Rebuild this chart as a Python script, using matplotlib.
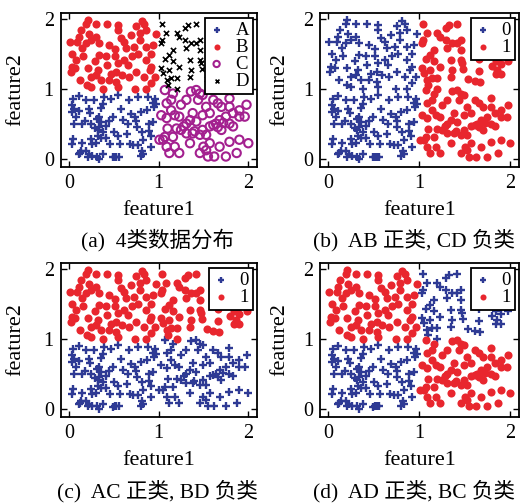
import numpy as np
import matplotlib
matplotlib.use("Agg")
import matplotlib.pyplot as plt

plt.rcParams['font.family'] = ['Liberation Serif', 'Noto Sans CJK SC']
plt.rcParams['mathtext.fontset'] = 'stix'

# class A: x in 0-1, y in 0-1
A_x = [0.05, 0.11, 0.19, 0.28, 0.39, 0.47, 0.55, 0.67, 0.77, 0.88, 0.96,
       0.04, 0.06, 0.04, 0.11, 0.22, 0.24, 0.36, 0.38, 0.58, 0.69, 0.74, 0.80, 0.87, 0.97,
       0.06, 0.15, 0.18, 0.25, 0.31, 0.34, 0.36, 0.34, 0.41, 0.45, 0.49, 0.60, 0.66, 0.75, 0.76, 0.89, 0.94,
       0.32, 0.38, 0.33, 0.41, 0.50, 0.55, 0.65, 0.81, 0.89,
       0.05, 0.04, 0.15, 0.25, 0.26, 0.30, 0.36, 0.46, 0.57, 0.68, 0.72, 0.77, 0.83, 0.82, 0.91,
       0.14, 0.11, 0.19, 0.23, 0.26, 0.31, 0.38, 0.49, 0.56, 0.80, 0.83,
       0.12, 0.21, 0.34, 0.51, 0.53, 0.94, 0.95, 0.92, 0.08, 0.29]
A_y = [0.86, 0.91, 0.85, 0.85, 0.89, 0.86, 0.92, 0.85, 0.89, 0.89, 0.86,
       0.78, 0.72, 0.67, 0.69, 0.72, 0.66, 0.74, 0.79, 0.72, 0.65, 0.60, 0.67, 0.70, 0.79,
       0.50, 0.50, 0.55, 0.50, 0.58, 0.60, 0.53, 0.46, 0.48, 0.55, 0.61, 0.56, 0.51, 0.55, 0.46, 0.51, 0.54,
       0.42, 0.39, 0.34, 0.31, 0.39, 0.34, 0.36, 0.39, 0.41,
       0.29, 0.22, 0.23, 0.29, 0.22, 0.24, 0.31, 0.22, 0.22, 0.22, 0.20, 0.21, 0.27, 0.12, 0.34,
       0.12, 0.08, 0.12, 0.08, 0.05, 0.04, 0.08, 0.03, 0.04, 0.05, 0.07,
       0.09, 0.04, 0.01, 0.04, 0.04, 0.80, 0.75, 0.17, 0.60, 0.45]

# class B: x in 0-1, y in 1-2
B_x = [0.21, 0.30, 0.42, 0.55, 0.55, 0.13, 0.11, 0.09, 0.01, 0.22, 0.25, 0.19, 0.15, 0.04,
       0.03, 0.07, 0.21, 0.12, 0.20, 0.25, 0.30, 0.33, 0.34, 0.45, 0.34, 0.41, 0.51, 0.51,
       0.55, 0.53, 0.62, 0.69, 0.75, 0.84, 0.86, 0.79, 0.73, 0.77, 0.79, 0.97, 0.94, 0.92,
       0.86, 0.92, 0.84, 0.75, 0.67, 0.59, 0.53, 0.45, 0.62, 0.66, 0.42, 0.38, 0.55, 0.74,
       0.86, 0.92, 0.96, 0.30, 0.16, 0.08, 0.29, 0.25, 0.36, 0.64, 0.86, 0.90,
       0.19, 0.47, 0.70, 0.02, 0.58, 0.81]
B_y = [1.99, 1.94, 1.93, 1.92, 1.85, 1.85, 1.75, 1.68, 1.68, 1.79, 1.71, 1.66, 1.59, 1.51,
       1.32, 1.30, 1.30, 1.13, 1.06, 1.03, 1.20, 1.28, 1.66, 1.63, 1.49, 1.47, 1.57, 1.47,
       1.37, 1.25, 1.68, 1.78, 1.90, 1.94, 1.85, 1.71, 1.61, 1.51, 1.80, 1.79, 1.63, 1.51,
       1.42, 1.32, 1.18, 1.25, 1.18, 1.20, 1.11, 1.13, 1.42, 1.35, 1.35, 1.01, 1.03, 1.00,
       1.01, 1.09, 1.18, 1.75, 1.47, 1.42, 1.40, 1.18, 1.13, 1.59, 1.61, 1.28,
       1.94, 1.22, 1.48, 1.25, 1.73, 1.97]

# class C: x in 1-2, y in 0-1
C_x = [1.07, 1.16, 1.14, 1.09, 1.03, 1.09, 1.14, 1.18, 1.25, 1.36, 1.42, 1.46, 1.44, 1.49,
       1.61, 1.66, 1.70, 1.79, 1.79, 1.83, 1.90, 1.98, 1.96, 1.90, 1.75, 1.68, 1.64, 1.57,
       1.49, 1.46, 1.53, 1.35, 1.31, 1.42, 1.25, 1.31, 1.20, 1.10, 1.07, 1.05, 1.16, 1.09,
       1.12, 1.23, 1.18, 1.35, 1.38, 1.57, 1.46, 1.53, 1.62, 1.68, 1.75, 1.79, 1.87, 1.90,
       2.00, 1.83, 1.70, 1.61, 1.79, 1.57, 1.49, 1.38, 1.23, 1.53, 1.31, 1.55, 1.50, 1.01,
       1.66, 1.72, 1.40, 1.28]
C_y = [0.99, 0.94, 0.85, 0.80, 0.63, 0.59, 0.70, 0.63, 0.78, 0.97, 0.99, 0.94, 0.85, 0.92,
       0.85, 0.80, 0.75, 0.87, 0.75, 0.66, 0.70, 0.78, 0.61, 0.61, 0.61, 0.56, 0.51, 0.47,
       0.42, 0.35, 0.35, 0.56, 0.51, 0.54, 0.42, 0.37, 0.44, 0.44, 0.32, 0.28, 0.32, 0.18,
       0.09, 0.09, 0.18, 0.23, 0.37, 0.23, 0.09, 0.13, 0.04, 0.18, 0.04, 0.25, 0.09, 0.28,
       0.23, 0.47, 0.42, 0.49, 0.51, 0.66, 0.63, 0.66, 0.61, 0.75, 0.85, 0.04, 0.18, 0.28,
       0.46, 0.52, 0.40, 0.47]

# class D: x in 1-2, y in 1-2
D_x = [1.04, 1.08, 1.04, 1.03, 1.20, 1.23, 1.29, 1.33, 1.42, 1.29, 1.36, 1.31, 1.42, 1.46,
       1.46, 1.16, 1.12, 1.07, 1.16, 1.23, 1.03, 1.05, 1.12, 1.09, 1.20, 1.35, 1.36, 1.35,
       1.46, 1.10, 1.20, 1.14,
       1.47, 1.48, 1.54, 1.67, 1.66, 1.80, 1.84, 1.88, 1.90, 1.86, 1.84, 1.90, 1.98, 1.66, 1.61]
D_y = [1.93, 1.80, 1.70, 1.66, 1.80, 1.75, 1.87, 1.92, 1.93, 1.70, 1.66, 1.59, 1.66, 1.56,
       1.70, 1.56, 1.49, 1.44, 1.40, 1.32, 1.30, 1.23, 1.28, 1.13, 1.16, 1.42, 1.28, 1.18,
       1.42, 1.06, 1.01, 1.16,
       1.38, 1.29, 1.15, 1.10, 1.26, 1.33, 1.40, 1.46, 1.36, 1.27, 1.22, 1.22, 1.40, 1.43, 1.12]

blue = '#2e3a94'
red = '#e8262e'
magenta = '#a3208f'

fig = plt.figure(figsize=(5.24, 5.03), dpi=100)
rects = [(0.116, 0.668, 0.375, 0.306), (0.611, 0.668, 0.380, 0.306),
         (0.116, 0.171, 0.375, 0.306), (0.611, 0.171, 0.380, 0.306)]
captions = ['(a)  4类数据分布', '(b)  AB 正类, CD 负类', '(c)  AC 正类, BD 负类', '(d)  AD 正类, BC 负类']
cap_x = [0.30, 0.79, 0.30, 0.79]
cap_y = [0.523, 0.523, 0.024, 0.024]
ylab_x = [-0.18, -0.155, -0.18, -0.155]

plus_kw = dict(marker='+', s=40, linewidths=1.7, color=blue)
dot_kw = dict(marker='o', s=34, linewidths=0, color=red)

axes = [fig.add_axes(r) for r in rects]

# (a) four classes
ax = axes[0]
ax.scatter(A_x, A_y, label='A', **plus_kw)
ax.scatter(B_x, B_y, label='B', **dot_kw)
ax.scatter(C_x, C_y, marker='o', s=36, facecolors='none', edgecolors=magenta,
           linewidths=1.5, label='C')
ax.scatter(D_x, D_y, marker='x', s=14, linewidths=1.2, color='black', label='D')

groups = [
    (A_x + B_x, A_y + B_y, C_x + D_x, C_y + D_y),
    (A_x + C_x, A_y + C_y, B_x + D_x, B_y + D_y),
    (A_x + D_x, A_y + D_y, B_x + C_x, B_y + C_y),
]
for ax, (x0, y0, x1, y1) in zip(axes[1:], groups):
    ax.scatter(x0, y0, label='0', **plus_kw)
    ax.scatter(x1, y1, label='1', **dot_kw)

for i, ax in enumerate(axes):
    ax.set_xlim(-0.09, 2.1)
    ax.set_ylim(-0.11, 2.09)
    ax.set_xticks([0, 1, 2])
    ax.set_yticks([0, 1, 2])
    ax.tick_params(direction='in', length=4, width=1, labelsize=14.5,
                   top=True, right=True, pad=5)
    for sp in ax.spines.values():
        sp.set_linewidth(1.3)
    ax.set_xlabel('feature1', fontsize=16)
    ax.set_ylabel('feature2', fontsize=16)
    ax.xaxis.set_label_coords(0.5, -0.22)
    ax.yaxis.set_label_coords(ylab_x[i], 0.5)
    leg = ax.legend(loc='upper right', fontsize=13.5, frameon=True, fancybox=False,
                    edgecolor='black', framealpha=1, borderaxespad=0.25,
                    handlelength=0.8, handletextpad=0.6, borderpad=0.2,
                    labelspacing=0.0, markerscale=0.75)
    leg.get_frame().set_linewidth(1.3)
    fig.text(cap_x[i], cap_y[i], captions[i], ha='center', va='center', fontsize=15.5)

fig.savefig('out.png', dpi=100)
